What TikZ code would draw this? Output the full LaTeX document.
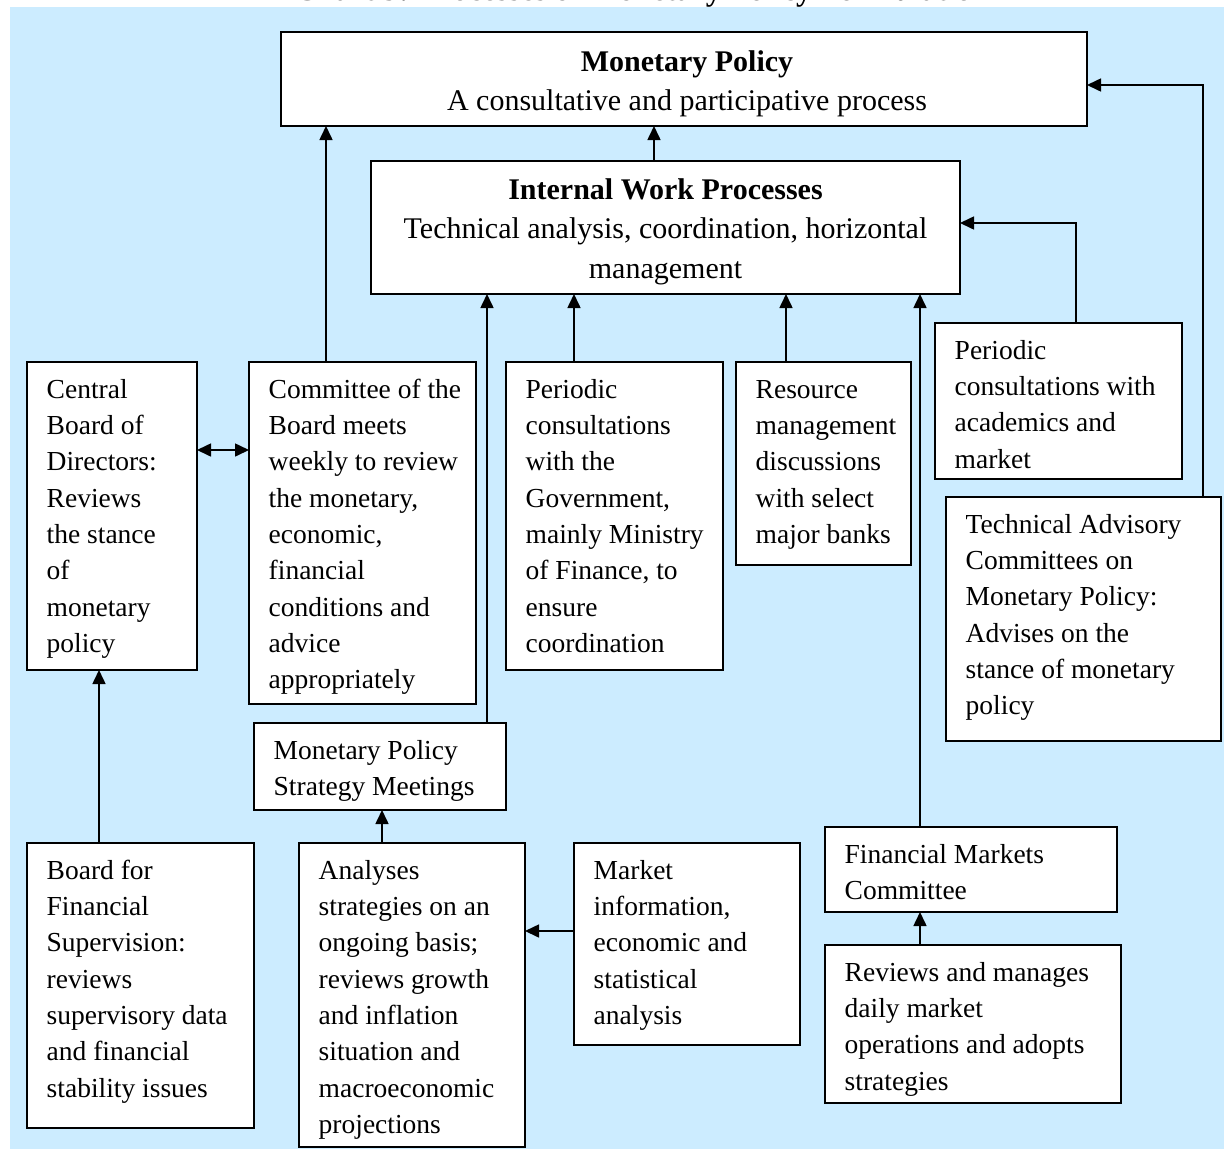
\documentclass[tikz,border=0pt]{standalone}
\usepackage{fontspec}
\setmainfont{Liberation Serif}
\usetikzlibrary{arrows.meta}
\definecolor{bgblue}{RGB}{204,236,255}
\tikzset{
  bx/.style={draw=black, fill=white, line width=1.8pt, inner sep=0pt, outer sep=0pt, anchor=north west},
  txt/.style={anchor=north west, align=left, inner sep=0pt, font=\fontsize{27.5pt}{36.3pt}\selectfont},
  bigtxt/.style={anchor=north, align=center, inner sep=0pt, font=\fontsize{30pt}{39.5pt}\selectfont},
  conn/.style={line width=1.6pt, -{Triangle[length=14pt,width=13pt]}},
  conntwo/.style={line width=1.6pt, {Triangle[length=14pt,width=13pt]}-{Triangle[length=14pt,width=13pt]}},
}
\newcommand{\mybox}[6]{%
  \node[bx, minimum width=#4pt, minimum height=#5pt] (#1) at (#2,#3) {};
  \node[txt] (#1t) at ([xshift=19.5pt,yshift=-16pt]#1.north west) {\rule{0pt}{20pt}#6};}
\begin{document}
\begin{tikzpicture}[x=1pt,y=-1pt]
\useasboundingbox (0,0) rectangle (1224,1149);
\fill[white] (0,0) rectangle (1224,1149);
\node[font=\bfseries\fontsize{31.5pt}{36pt}\selectfont, anchor=base, inner sep=0pt] (title) at (642,0.5) {Chart 9: Processes of Monetary Policy Formulation};
\fill[bgblue] (10,7) rectangle (1224,1149);

% main boxes
\node[bx, minimum width=806pt, minimum height=94pt] (MP) at (281,32) {};
\node[bigtxt] (MPt) at ([xshift=3pt,yshift=-18pt]MP.north) {\rule{0pt}{20pt}\textbf{Monetary Policy}\\A consultative and participative process};
\node[bx, minimum width=589pt, minimum height=133pt] (IWP) at (371,161) {};
\node[bigtxt] (IWPt) at ([yshift=-17pt]IWP.north) {\rule{0pt}{20pt}\textbf{Internal Work Processes}\\Technical analysis, coordination, horizontal\\management};

% other boxes
\mybox{CB}{27}{362}{170}{308}{Central\\Board of\\Directors:\\Reviews\\the stance\\of\\monetary\\policy}
\mybox{CO}{249}{362}{227}{342}{Committee of the\\Board meets\\weekly to review\\the monetary,\\economic,\\financial\\conditions and\\advice\\appropriately}
\mybox{PG}{506}{362}{217}{308}{Periodic\\consultations\\with the\\Government,\\mainly Ministry\\of Finance, to\\ensure\\coordination}
\mybox{RM}{736}{362}{175}{203}{Resource\\management\\discussions\\with select\\major banks}
\mybox{PA}{935}{323}{247}{156}{Periodic\\consultations with\\academics and\\market}
\mybox{TA}{946}{497}{275}{244}{Technical Advisory\\Committees on\\Monetary Policy:\\Advises on the\\stance of monetary\\policy}
\mybox{MPS}{254}{723}{252}{87}{Monetary Policy\\Strategy Meetings}
\mybox{BFS}{27}{843}{227}{285}{Board for\\Financial\\Supervision:\\reviews\\supervisory data\\and financial\\stability issues}
\mybox{AN}{299}{843}{226}{304}{Analyses\\strategies on an\\ongoing basis;\\reviews growth\\and inflation\\situation and\\macroeconomic\\projections}
\mybox{MI}{574}{843}{226}{202}{Market\\information,\\economic and\\statistical\\analysis}
\mybox{FMC}{825}{827}{292}{85}{Financial Markets\\Committee}
\mybox{RMG}{825}{945}{296}{158}{Reviews and manages\\daily market\\operations and adopts\\strategies}

% connectors
\coordinate (a1) at ([xshift=-11.5pt]IWP.north);
\draw[conn] (a1) -- (a1 |- MP.south);
\coordinate (b1) at ([xshift=77pt]CO.north west);
\draw[conn] (b1) -- (b1 |- MP.south);
\coordinate (c1) at ([xshift=-18pt]TA.north east);
\coordinate (c2) at ([yshift=-6pt]MP.east);
\draw[conn] (c1) |- (c2);
\coordinate (d1) at ([xshift=141pt]PA.north west);
\coordinate (d2) at ([yshift=4.5pt]IWP.east);
\draw[conn] (d1) |- (d2);
\coordinate (e1) at ([xshift=-19pt]MPS.north east);
\draw[conn] (e1) -- (e1 |- IWP.south);
\coordinate (f1) at ([xshift=68pt]PG.north west);
\draw[conn] (f1) -- (f1 |- IWP.south);
\coordinate (g1) at ([xshift=50pt]RM.north west);
\draw[conn] (g1) -- (g1 |- IWP.south);
\coordinate (h1) at ([xshift=95pt]FMC.north west);
\draw[conn] (h1) -- (h1 |- IWP.south);
\coordinate (i1) at ([yshift=-88pt]CB.north east);
\draw[conntwo] (i1) -- (i1 -| CO.west);
\coordinate (j1) at ([xshift=72pt]BFS.north west);
\draw[conn] (j1) -- (j1 |- CB.south);
\coordinate (k1) at ([xshift=83pt]AN.north west);
\draw[conn] (k1) -- (k1 |- MPS.south);
\coordinate (l1) at ([yshift=-88pt]MI.north west);
\draw[conn] (l1) -- (l1 -| AN.east);
\coordinate (m1) at ([xshift=95pt]RMG.north west);
\draw[conn] (m1) -- (m1 |- FMC.south);
\end{tikzpicture}
\end{document}
